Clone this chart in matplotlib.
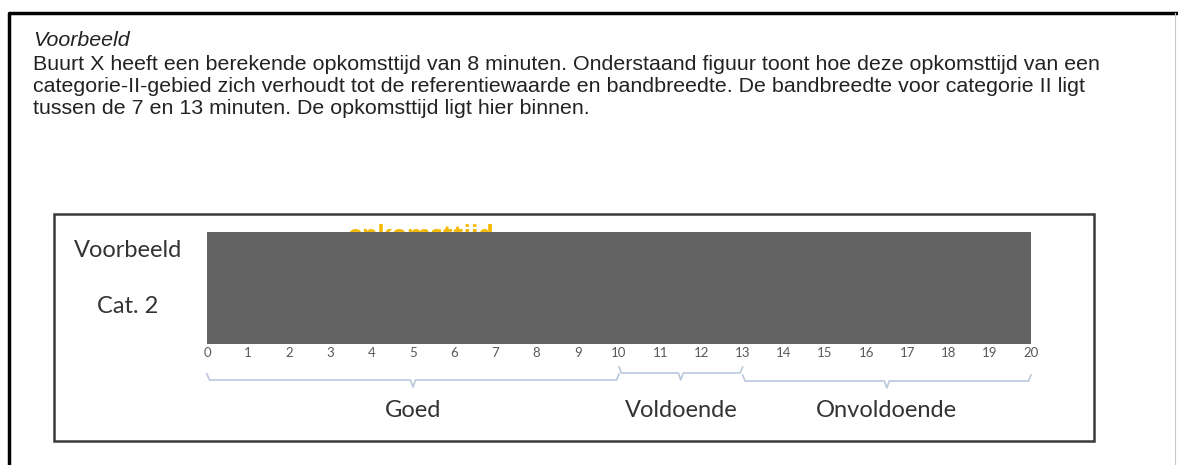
import matplotlib.pyplot as plt
from matplotlib.lines import Line2D
from matplotlib.patches import Rectangle
from matplotlib.transforms import blended_transform_factory, ScaledTranslation

# data
categories = ['Cat. 2', 'Voorbeeld']
bar_values = [20, 20]
x_ticks = list(range(0, 21))
band_labels = ['Goed', 'Voldoende', 'Onvoldoende']
band_edges = [0, 10, 13, 20]
marker_label = 'opkomsttijd'
marker_x = 5.2

intro_title = 'Voorbeeld'
intro_lines = [
    'Buurt X heeft een berekende opkomsttijd van 8 minuten. Onderstaand figuur toont hoe deze opkomsttijd van een',
    'categorie-II-gebied zich verhoudt tot de referentiewaarde en bandbreedte. De bandbreedte voor categorie II ligt',
    'tussen de 7 en 13 minuten. De opkomsttijd ligt hier binnen.',
]

W, H = 1178, 465


def fx(px):
    return px / W


def fy(py):
    return 1 - py / H


fig = plt.figure(figsize=(W / 100, H / 100), dpi=100)

# outer page frame (top and left thick, right thin)
fig.add_artist(Line2D([fx(9), fx(9), fx(1176)], [fy(470), fy(13), fy(13)], transform=fig.transFigure,
                      color='black', linewidth=2.5))
fig.add_artist(Line2D([fx(1175), fx(1175)], [fy(13), fy(470)], transform=fig.transFigure,
                      color='#c8c8c8', linewidth=0.8))
# inner chart frame
fig.add_artist(Rectangle((fx(54), fy(441)), fx(1040), fy(214) - fy(441), transform=fig.transFigure,
                         fill=False, edgecolor='#3a3a3a', linewidth=1.8))

# intro text
fig.text(fx(33), fy(40), intro_title, fontsize=15.4, style='italic', family='Liberation Sans',
         color='#222222', va='center')
for i, line in enumerate(intro_lines):
    fig.text(fx(33), fy(64 + 22.5 * i), line, fontsize=15.4, family='Liberation Sans',
             color='#222222', va='center')

ax = fig.add_axes([fx(207), fy(344), fx(1031) - fx(207), fy(232) - fy(344)])
ax.set_facecolor('none')
ax.barh(range(len(categories)), bar_values, height=1.0, color='#636363', zorder=3)
ax.set_xlim(0, 20)
ax.set_ylim(-0.5, 1.5)
for s in ax.spines.values():
    s.set_visible(False)

ax.set_xticks(x_ticks)
ax.set_xticklabels([str(t) for t in x_ticks], fontsize=9.5, color='#595959', family='Lato')
ax.tick_params(axis='x', length=0, pad=2)

ax.set_yticks(range(len(categories)))
ax.set_yticklabels(categories, fontsize=17, color='#333333', family='Lato', ha='center')
ax.tick_params(axis='y', length=0, pad=57)
for lab in ax.get_yticklabels():
    lab.set_transform(lab.get_transform() + ScaledTranslation(0, 8 / 72, fig.dpi_scale_trans))

# orange marker label, mostly hidden behind the bar
mk = ax.text(marker_x, 1.5, marker_label, fontsize=17.5, fontweight='bold', color='#F5B800',
             family='Open Sans', ha='center', va='baseline', zorder=1, clip_on=False)
mk.set_transform(ax.transData + ScaledTranslation(0, -7 / 72, fig.dpi_scale_trans))

# braces under the axis
tr = blended_transform_factory(ax.transData, fig.transFigure)
brace_y = [380, 373, 381]
brace_color = '#b9c8dd'
for i, lab in enumerate(band_labels):
    a, b = band_edges[i], band_edges[i + 1]
    mid = (a + b) / 2
    yl = brace_y[i]
    xs = [a, a + 0.06, mid - 0.06, mid, mid + 0.06, b - 0.06, b]
    ys = [yl - 6, yl, yl, yl + 7, yl, yl, yl - 6]
    ax.plot(xs, [fy(v) for v in ys], transform=tr, color=brace_color, linewidth=1.2, clip_on=False)
    ax.text(mid, fy(410), lab, transform=tr, fontsize=17, color='#333333', family='Lato',
            ha='center', va='center')

fig.savefig('out.png', dpi=100)
